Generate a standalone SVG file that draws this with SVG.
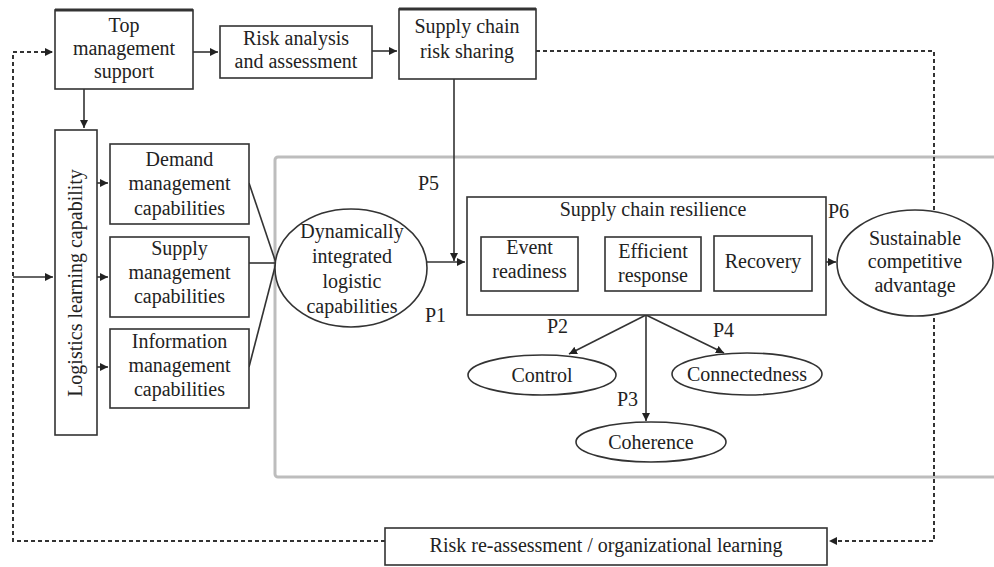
<svg xmlns="http://www.w3.org/2000/svg" width="994" height="567" viewBox="0 0 994 567">
<style>
text{font-family:"Liberation Serif","Times New Roman",serif;font-size:20px;fill:#222;text-anchor:middle}
.box{fill:#fff;stroke:#333;stroke-width:1.6}
.ell{fill:#fff;stroke:#333;stroke-width:1.6}
.ln{fill:none;stroke:#333;stroke-width:1.6}
.dash{fill:none;stroke:#333;stroke-width:2;stroke-dasharray:4 3}
.lbl{text-anchor:start}
</style>
<defs>
<marker id="ah" markerUnits="userSpaceOnUse" markerWidth="9" markerHeight="9" refX="8" refY="4" orient="auto">
<path d="M0,0 L8,4 L0,8 z" fill="#222"/>
</marker>
</defs>
<rect id="frame" x="275" y="157" width="730" height="320" rx="3" fill="none" stroke="#bdbdbd" stroke-width="3"/>
<g id="connectors">
<path class="dash" d="M536,51 H934 V541 H829" marker-end="url(#ah)"/>
<path class="dash" d="M385,541 H13 V52 H53" marker-end="url(#ah)"/>
<path class="ln" d="M13,277 H53" marker-end="url(#ah)"/>
<path class="ln" d="M193,52 H218" marker-end="url(#ah)"/>
<path class="ln" d="M372,51 H397" marker-end="url(#ah)"/>
<path class="ln" d="M84,89 V128" marker-end="url(#ah)"/>
<path class="ln" d="M97,183 H108" marker-end="url(#ah)"/>
<path class="ln" d="M97,277 H108" marker-end="url(#ah)"/>
<path class="ln" d="M97,367 H108" marker-end="url(#ah)"/>
<path class="ln" d="M249,183 L276,263"/>
<path class="ln" d="M249,263 H276"/>
<path class="ln" d="M249,367 L276,263"/>
<path class="ln" d="M454,79 V261" marker-end="url(#ah)"/>
<path class="ln" d="M427,262 H465" marker-end="url(#ah)"/>
<path class="ln" d="M578,263 H603" marker-end="url(#ah)"/>
<path class="ln" d="M701,262 H712" marker-end="url(#ah)"/>
<path class="ln" d="M826,262 H836" marker-end="url(#ah)"/>
<path class="ln" d="M646,315 L569,354" marker-end="url(#ah)"/>
<path class="ln" d="M646,315 V421" marker-end="url(#ah)"/>
<path class="ln" d="M646,315 L724,353" marker-end="url(#ah)"/>
</g>
<g id="top-management">
<rect class="box" x="55" y="10" width="138" height="79"/>
<line x1="55" y1="10" x2="193" y2="10" stroke="#333" stroke-width="3"/>
<text x="124" y="32">Top</text>
<text x="124" y="55">management</text>
<text x="124" y="78">support</text>
</g>
<g id="risk-analysis">
<rect class="box" x="220" y="26" width="152" height="52"/>
<text x="296" y="45">Risk analysis</text>
<text x="296" y="68">and assessment</text>
</g>
<g id="risk-sharing">
<rect class="box" x="399" y="9" width="137" height="70"/>
<line x1="399" y1="9" x2="536" y2="9" stroke="#333" stroke-width="3"/>
<text x="467" y="33">Supply chain</text>
<text x="467" y="58">risk sharing</text>
</g>
<g id="logistics-learning">
<rect class="box" x="55" y="130" width="42" height="305"/>
<text transform="translate(82,283) rotate(-90)">Logistics learning capability</text>
</g>
<g id="demand">
<rect class="box" x="110" y="144" width="139" height="80"/>
<text x="179.5" y="166">Demand</text>
<text x="179.5" y="190">management</text>
<text x="179.5" y="215">capabilities</text>
</g>
<g id="supply">
<rect class="box" x="110" y="237" width="139" height="80"/>
<text x="179.5" y="255">Supply</text>
<text x="179.5" y="279">management</text>
<text x="179.5" y="303">capabilities</text>
</g>
<g id="information">
<rect class="box" x="110" y="329" width="139" height="79"/>
<text x="179.5" y="348">Information</text>
<text x="179.5" y="372">management</text>
<text x="179.5" y="396">capabilities</text>
</g>
<g id="dilc">
<ellipse class="ell" cx="351" cy="268" rx="76" ry="59"/>
<text x="352" y="238">Dynamically</text>
<text x="352" y="263">integrated</text>
<text x="352" y="288">logistic</text>
<text x="352" y="313">capabilities</text>
</g>
<g id="resilience">
<rect class="box" x="467" y="197" width="359" height="118"/>
<text x="653" y="216">Supply chain resilience</text>
</g>
<g id="event-readiness">
<rect class="box" x="481" y="237" width="97" height="54"/>
<text x="529.5" y="254">Event</text>
<text x="529.5" y="278">readiness</text>
</g>
<g id="efficient-response">
<rect class="box" x="605" y="237" width="96" height="54"/>
<text x="653" y="258">Efficient</text>
<text x="653" y="282">response</text>
</g>
<g id="recovery">
<rect class="box" x="714" y="236" width="98" height="55"/>
<text x="763" y="268">Recovery</text>
</g>
<g id="sustainable">
<ellipse class="ell" cx="915" cy="263" rx="78" ry="53"/>
<text x="915" y="245">Sustainable</text>
<text x="915" y="268">competitive</text>
<text x="915" y="292">advantage</text>
</g>
<g id="control">
<ellipse class="ell" cx="542" cy="375" rx="74" ry="20"/>
<text x="542" y="382">Control</text>
</g>
<g id="connectedness">
<ellipse class="ell" cx="747" cy="374" rx="75" ry="21"/>
<text x="747" y="381">Connectedness</text>
</g>
<g id="coherence">
<ellipse class="ell" cx="651" cy="442" rx="75" ry="20"/>
<text x="651" y="449">Coherence</text>
</g>
<g id="reassessment">
<rect class="box" x="385" y="528" width="442" height="37"/>
<text x="606" y="552">Risk re-assessment / organizational learning</text>
</g>
<g id="labels">
<text class="lbl" x="418" y="190">P5</text>
<text class="lbl" x="425" y="322">P1</text>
<text class="lbl" x="547" y="333">P2</text>
<text class="lbl" x="617" y="406">P3</text>
<text class="lbl" x="713" y="337">P4</text>
<text class="lbl" x="828" y="218">P6</text>
</g>
</svg>
